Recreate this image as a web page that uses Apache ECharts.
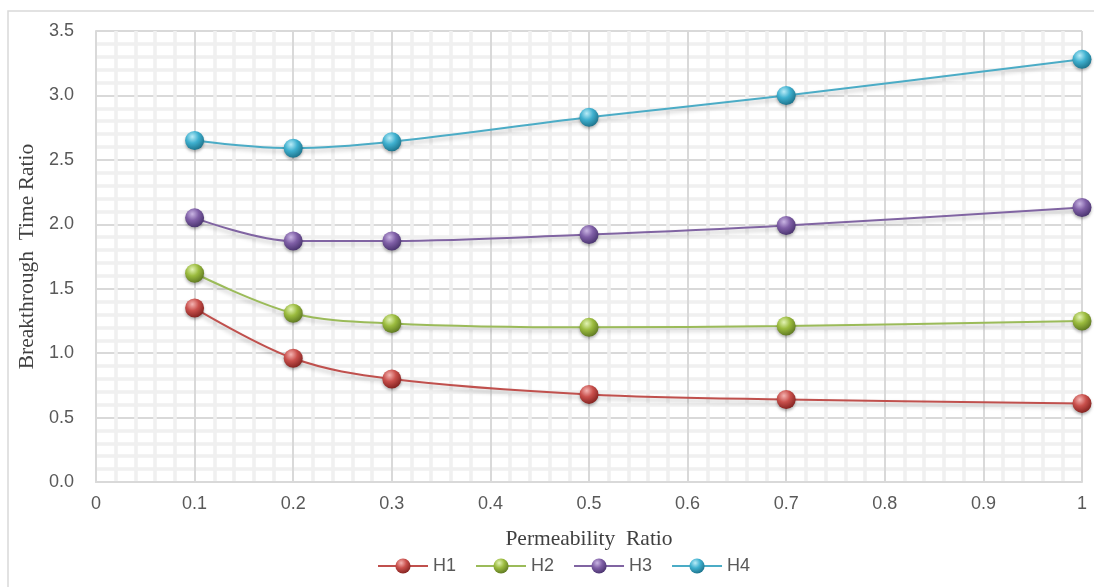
<!DOCTYPE html>
<html>
<head>
<meta charset="utf-8">
<script src="https://cdn.jsdelivr.net/npm/echarts@6/dist/echarts.min.js"></script>
<style>html,body{margin:0;padding:0;background:#fff}#c{width:1094px;height:587px}</style>
</head>
<body>
<div id="c"></div>
<script>
const xValues = [0.1, 0.2, 0.3, 0.5, 0.7, 1.0];
const H1 = [1.35, 0.96, 0.80, 0.68, 0.64, 0.61];
const H2 = [1.62, 1.31, 1.23, 1.20, 1.21, 1.25];
const H3 = [2.05, 1.87, 1.87, 1.92, 1.99, 2.13];
const H4 = [2.65, 2.59, 2.64, 2.83, 3.00, 3.28];
const seriesNames = ['H1', 'H2', 'H3', 'H4'];
const xTitle = 'Permeability  Ratio';
const yTitle = 'Breakthrough  Time Ratio';

const palette = [
  {line: '#c0504d', light: '#f4b4b2', mid: '#c9504c', dark: '#7e1f1d'},
  {line: '#9bbb59', light: '#e2f3b4', mid: '#9bbb3e', dark: '#5a7420'},
  {line: '#8064a2', light: '#c9b5e3', mid: '#7f5fa6', dark: '#45306a'},
  {line: '#4bacc6', light: '#b9ecf8', mid: '#3fb0cf', dark: '#1a6e86'}
];
function sphere(p) {
  return {
    type: 'radial', x: 0.38, y: 0.3, r: 0.75,
    colorStops: [
      {offset: 0, color: p.light},
      {offset: 0.45, color: p.mid},
      {offset: 1, color: p.dark}
    ]
  };
}
const allData = [H1, H2, H3, H4];
const series = allData.map((arr, i) => ({
  name: seriesNames[i],
  type: 'line',
  smooth: 0.35,
  data: arr.map((v, j) => [xValues[j], v]),
  symbol: 'circle',
  symbolSize: 19,
  lineStyle: {color: palette[i].line, width: 2, shadowColor: 'rgba(0,0,0,0.25)', shadowBlur: 4, shadowOffsetY: 3},
  itemStyle: {color: sphere(palette[i]), borderWidth: 0, shadowColor: 'rgba(0,0,0,0.3)', shadowBlur: 3, shadowOffsetY: 2},
  emphasis: {disabled: true}
}));

const chart = echarts.init(document.getElementById('c'), null, {renderer: 'canvas'});
chart.setOption({
  animation: false,
  backgroundColor: '#ffffff',
  color: palette.map(p => p.line),
  graphic: [{
    type: 'rect', silent: true, z: -10,
    shape: {x: 8, y: 11, width: 1100, height: 600},
    style: {fill: 'none', stroke: '#d9d9d9', lineWidth: 1.5}
  }],
  grid: {left: 96, right: 12, top: 31, bottom: 105, containLabel: false},
  xAxis: {
    type: 'value', min: 0, max: 1, interval: 0.1,
    name: xTitle, nameLocation: 'middle', nameGap: 46,
    nameTextStyle: {fontFamily: 'Liberation Serif', fontSize: 21.5, color: '#404040'},
    axisLine: {show: true, lineStyle: {color: '#d9d9d9', width: 2}},
    axisTick: {show: false},
    axisLabel: {fontFamily: 'Liberation Sans', fontSize: 18, color: '#595959', margin: 13,
      formatter: v => (Math.round(v * 10) / 10).toString()},
    splitLine: {show: true, lineStyle: {color: '#d9d9d9', width: 2}},
    minorTick: {show: false, splitNumber: 5},
    minorSplitLine: {show: true, lineStyle: {color: '#f0f0f0', width: 3.5}}
  },
  yAxis: {
    type: 'value', min: 0, max: 3.5, interval: 0.5,
    name: yTitle, nameLocation: 'middle', nameGap: 49, nameRotate: 90,
    nameTextStyle: {fontFamily: 'Liberation Serif', fontSize: 21.5, color: '#404040'},
    axisLine: {show: true, lineStyle: {color: '#d9d9d9', width: 2}},
    axisTick: {show: false},
    axisLabel: {fontFamily: 'Liberation Sans', fontSize: 18, color: '#595959', margin: 22,
      formatter: v => v.toFixed(1)},
    splitLine: {show: true, lineStyle: {color: '#d9d9d9', width: 2}},
    minorTick: {show: false, splitNumber: 5},
    minorSplitLine: {show: true, lineStyle: {color: '#f0f0f0', width: 3.5}}
  },
  legend: {
    data: seriesNames, left: 372, top: 552, itemWidth: 50, itemHeight: 19, itemGap: 19,
    textStyle: {fontFamily: 'Liberation Sans', fontSize: 18, color: '#595959'}
  },
  series: series
});
</script>
</body>
</html>
